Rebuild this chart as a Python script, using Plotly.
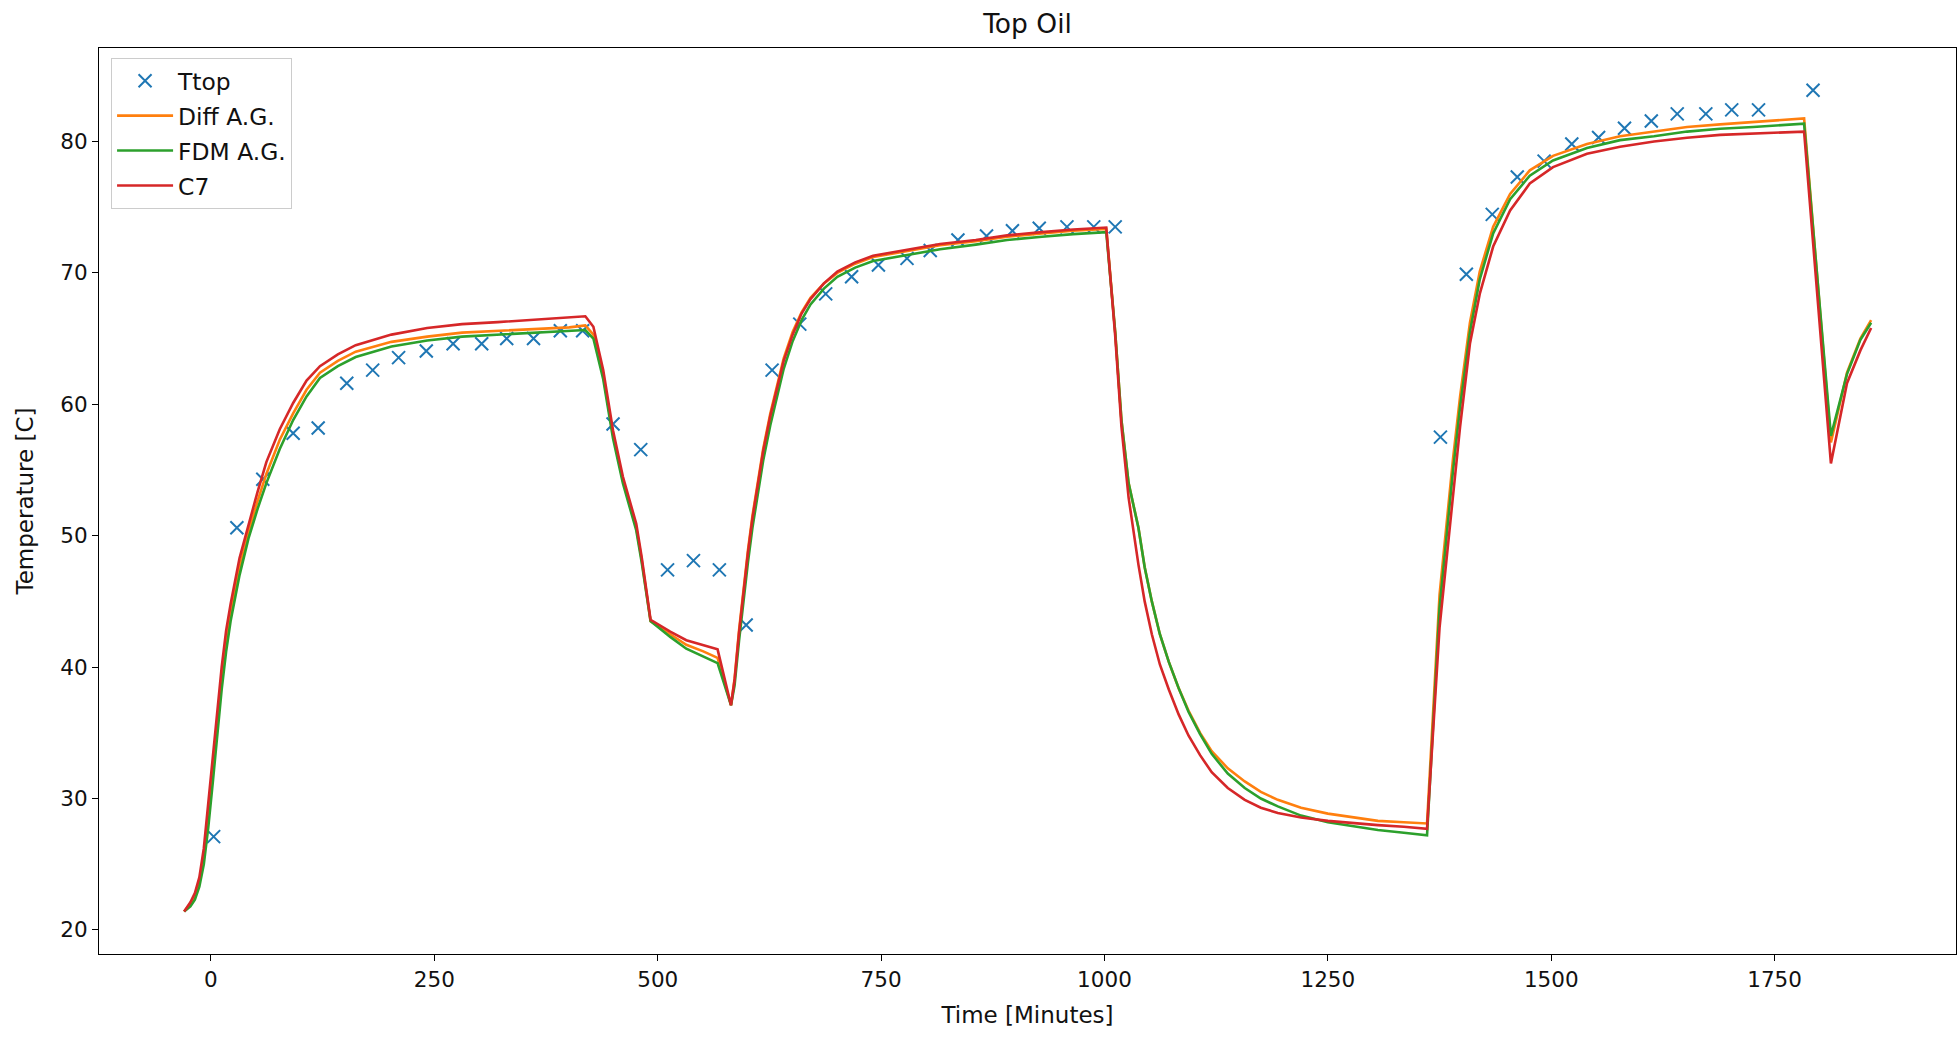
import plotly.graph_objects as go

# ---------------- data ----------------
# measured top-oil temperature (markers)
t_meas = [3, 29, 58, 92, 120, 152, 181, 210, 241, 271, 303, 331, 361, 391, 416,
          450, 481, 511, 540, 569, 599, 628, 659, 688, 717, 747, 779, 805, 836, 868,
          897, 927, 958, 988, 1012,
          1376, 1405, 1434, 1462, 1492, 1523, 1553, 1582, 1612, 1641, 1673, 1702, 1732, 1793]
ttop = [27.1, 50.6, 54.3, 57.8, 58.2, 61.6, 62.6, 63.55, 64.05, 64.6, 64.6, 65.0, 65.0, 65.6, 65.6,
        58.5, 56.55, 47.4, 48.1, 47.4, 43.2, 62.6, 66.1, 68.4, 69.7, 70.6, 71.1, 71.7, 72.5, 72.8,
        73.2, 73.4, 73.5, 73.5, 73.5,
        57.5, 69.9, 74.45, 77.3, 78.5, 79.8, 80.3, 81.0, 81.55, 82.1, 82.1, 82.4, 82.4, 83.9]

# model time grid (minutes)
t_model = [-30, -23, -18, -13, -8, -3, 2, 7, 12, 17, 22, 32, 42, 52, 62, 77, 92, 107, 122, 142,
           162, 202, 242, 281, 321, 361, 401, 419,
           428, 439, 450, 461, 476, 482, 492, 514, 532, 551, 567, 582,
           586, 591, 596, 601, 606, 611, 618, 626, 633, 641, 651, 661, 671, 686, 701, 721, 741,
           781, 816, 856, 891, 930, 965, 1002,
           1012, 1019, 1027, 1038, 1045, 1053, 1062, 1072, 1083, 1094, 1107, 1120, 1138, 1157,
           1175, 1194, 1220, 1250, 1280, 1306, 1335, 1361,
           1375, 1390, 1398, 1409, 1420, 1435, 1454, 1476, 1502, 1540, 1577, 1615, 1652, 1689,
           1726, 1783,
           1813, 1831, 1846, 1858]

diff_ag = [21.4, 22.0, 22.6, 23.7, 25.6, 28.7, 32.1, 35.8, 39.2, 42.0, 44.1, 47.6, 50.3, 52.6, 54.7,
           57.3, 59.3, 61.1, 62.4, 63.3, 64.0, 64.75, 65.15, 65.45, 65.6, 65.75, 65.85, 66.0,
           65.3, 62.2, 57.7, 54.2, 50.6, 48.2, 43.5, 42.5, 41.7, 41.2, 40.7, 37.1,
           39.1, 42.8, 46.1, 48.9, 51.5, 53.7, 56.6, 59.3, 61.3, 63.5, 65.5, 67.0, 68.1, 69.2, 70.0,
           70.7, 71.2, 71.7, 72.1, 72.4, 72.75, 73.0, 73.2, 73.35,
           65.5, 58.8, 54.0, 50.6, 47.6, 45.0, 42.5, 40.4, 38.4, 36.7, 35.0, 33.6, 32.3, 31.3,
           30.5, 29.9, 29.3, 28.85, 28.55, 28.3, 28.2, 28.1,
           45.5, 55.8, 60.6, 66.2, 70.1, 73.5, 76.0, 77.8, 78.9, 79.8, 80.4, 80.75, 81.1, 81.3,
           81.5, 81.75,
           57.1, 62.4, 65.0, 66.4]

fdm_ag = [21.4, 21.8, 22.3, 23.3, 25.0, 27.8, 31.2, 34.8, 38.3, 41.2, 43.5, 47.0, 49.8, 52.0, 54.0,
          56.6, 58.8, 60.6, 62.0, 62.9, 63.6, 64.4, 64.85, 65.15, 65.3, 65.45, 65.55, 65.65,
          65.0, 61.9, 57.4, 54.0, 50.4, 48.0, 43.5, 42.3, 41.4, 40.8, 40.3, 37.1,
          38.6, 42.0, 45.2, 48.0, 50.6, 52.8, 55.7, 58.4, 60.5, 62.7, 64.8, 66.4, 67.6, 68.8, 69.7,
          70.4, 70.9, 71.4, 71.8, 72.15, 72.5, 72.75, 72.95, 73.1,
          65.5, 58.8, 54.0, 50.6, 47.6, 45.0, 42.5, 40.4, 38.4, 36.6, 34.9, 33.4, 31.9, 30.8,
          30.0, 29.4, 28.7, 28.2, 27.85, 27.6, 27.4, 27.2,
          44.5, 54.9, 59.8, 65.5, 69.5, 73.0, 75.6, 77.4, 78.55, 79.5, 80.1, 80.4, 80.75, 80.96,
          81.1, 81.35,
          57.6, 62.3, 64.9, 66.2]

c7 = [21.4, 22.1, 22.8, 24.0, 26.2, 29.7, 33.0, 36.7, 40.0, 42.8, 44.8, 48.3, 50.9, 53.3, 55.6,
      58.1, 60.1, 61.8, 62.9, 63.8, 64.5, 65.3, 65.8, 66.1, 66.25, 66.45, 66.6, 66.7,
      65.9, 62.6, 58.0, 54.5, 50.9, 48.4, 43.6, 42.7, 42.05, 41.7, 41.35, 37.1,
      39.0, 42.6, 45.9, 48.7, 51.3, 53.5, 56.4, 59.1, 61.1, 63.3, 65.3, 66.9, 68.0, 69.2, 70.1,
      70.8, 71.3, 71.8, 72.2, 72.5, 72.85, 73.1, 73.3, 73.45,
      65.2, 58.3, 52.9, 47.8, 45.0, 42.5, 40.2, 38.3, 36.4, 34.8, 33.3, 32.0, 30.8, 29.9,
      29.3, 28.9, 28.55, 28.3, 28.1, 27.98, 27.85, 27.7,
      43.0, 52.7, 58.3, 64.6, 68.4, 72.0, 74.75, 76.8, 78.05, 79.06, 79.6, 80.0, 80.28, 80.5,
      80.6, 80.75,
      55.5, 61.6, 64.1, 65.8]

x_ticks = [0, 250, 500, 750, 1000, 1250, 1500, 1750]
y_ticks = [20, 30, 40, 50, 60, 70, 80]

# ---------------- figure ----------------
fig = go.Figure()
fig.add_trace(go.Scatter(
    x=t_meas, y=ttop, mode="markers", name="Ttop", legendgroup="g1",
    marker=dict(symbol="x-thin", size=13, color="#1f77b4",
                line=dict(width=2, color="#1f77b4"))))
fig.add_trace(go.Scatter(x=t_model, y=diff_ag, mode="lines", name="Diff A.G.",
                         legendgroup="g2", line=dict(color="#ff7f0e", width=2.6)))
fig.add_trace(go.Scatter(x=t_model, y=fdm_ag, mode="lines", name="FDM A.G.",
                         legendgroup="g3", line=dict(color="#2ca02c", width=2.6)))
fig.add_trace(go.Scatter(x=t_model, y=c7, mode="lines", name="C7",
                         legendgroup="g4", line=dict(color="#d62728", width=2.6)))

axis_common = dict(ticks="outside", ticklen=6, tickwidth=1.2, tickcolor="#000",
                   showline=True, linecolor="#000", linewidth=1.2, mirror=True,
                   showgrid=False, zeroline=False, automargin=False,
                   tickfont=dict(size=21.5, color="#111"))

fig.update_layout(
    width=1959, height=1038,
    margin=dict(l=99, r=3, t=48, b=84),
    paper_bgcolor="white", plot_bgcolor="white",
    font=dict(family="DejaVu Sans", size=21.5, color="#111"),
    title=dict(text="Top Oil", x=0.5, xref="paper", xanchor="center",
               y=1 - 24 / 1038, yanchor="middle", font=dict(size=26.5, color="#111")),
    xaxis=dict(range=[-125.3, 1953], tickvals=x_ticks,
               title=dict(text="Time [Minutes]", standoff=15,
                          font=dict(size=23, color="#111")), **axis_common),
    yaxis=dict(range=[18.17, 87.11], tickvals=y_ticks,
               title=dict(text="Temperature [C]", standoff=20,
                          font=dict(size=23, color="#111")), **axis_common),
    legend=dict(x=0.0065, y=0.989, xanchor="left", yanchor="top",
                bgcolor="rgba(255,255,255,0.8)", bordercolor="#cccccc", borderwidth=1,
                font=dict(size=23.4), itemwidth=56, tracegroupgap=1.5),
    showlegend=True,
)

fig.write_html("out.html", config={"displayModeBar": False},
               post_script="document.body.style.margin='0';document.body.style.overflow='hidden';")
